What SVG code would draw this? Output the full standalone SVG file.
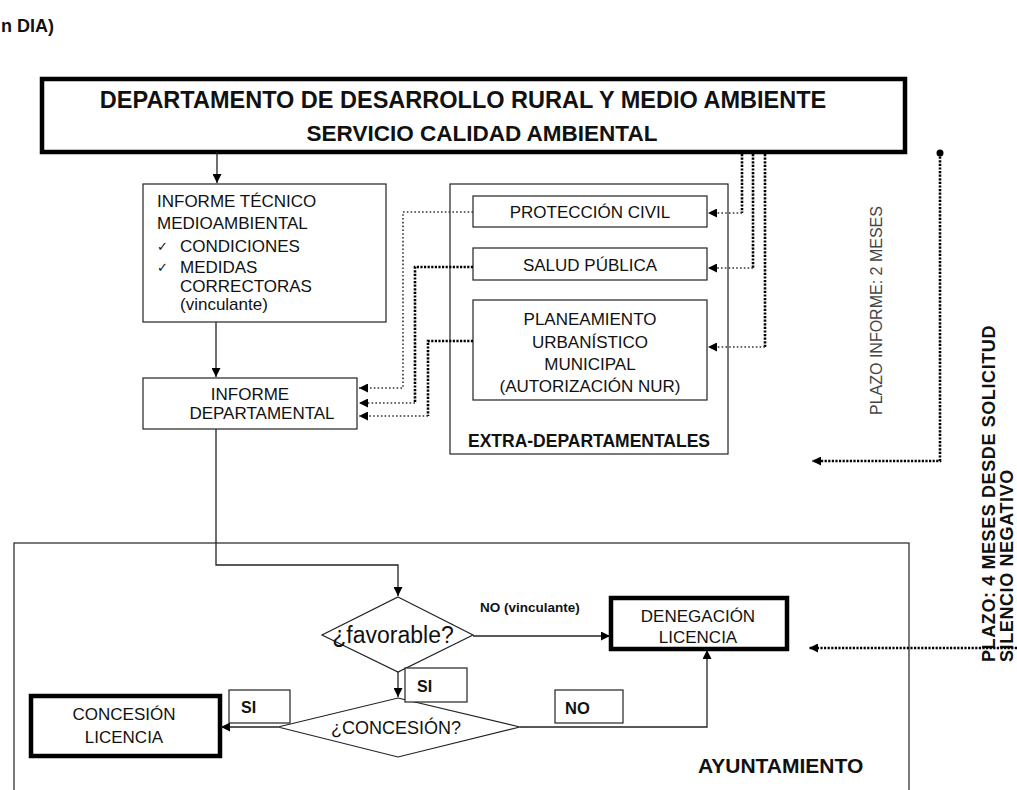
<svg xmlns="http://www.w3.org/2000/svg" width="1017" height="790" viewBox="0 0 1017 790">
<style>
text{font-family:"Liberation Sans",Arial,sans-serif;fill:#111}
.t{font-size:17px}
.b{font-weight:bold}
.box{fill:#fff;stroke:#222;stroke-width:1.2}
.thick{fill:#fff;stroke:#000;stroke-width:4.5}
.ln{fill:none;stroke:#222;stroke-width:1.3}
.dl{fill:none;stroke:#333;stroke-width:1.6;stroke-dasharray:1.6 2.2}
.dh{fill:none;stroke:#000;stroke-width:2.6;stroke-dasharray:2.2 1.4}
.chk{font-family:"DejaVu Sans",sans-serif;font-size:13px}
.rv{font-weight:bold;font-size:18px;letter-spacing:0.6px}
</style>
<defs>
<marker id="ah" viewBox="0 0 10 10" refX="10" refY="5" markerWidth="9" markerHeight="9" markerUnits="userSpaceOnUse" orient="auto"><path d="M0,0 L10,5 L0,10 z" fill="#000"/></marker>
</defs>
<rect width="1017" height="790" fill="#fff"/>

<text x="1" y="32" class="b" font-size="18">n DIA)</text>

<g id="ayuntamiento">
<rect x="14" y="543" width="895" height="260" class="box"/>
<text x="698" y="773" class="b" font-size="21">AYUNTAMIENTO</text>
</g>

<g id="departamento">
<rect x="42" y="79" width="863" height="73" class="thick"/>
<text x="463" y="108" class="b" font-size="23.5" text-anchor="middle">DEPARTAMENTO DE DESARROLLO RURAL Y MEDIO AMBIENTE</text>
<text x="482" y="141" class="b" font-size="22.5" text-anchor="middle">SERVICIO CALIDAD AMBIENTAL</text>
</g>

<g id="informe-tecnico">
<rect x="143" y="184" width="243" height="138" class="box"/>
<text x="157" y="207" class="t">INFORME TÉCNICO</text>
<text x="157" y="229" class="t">MEDIOAMBIENTAL</text>
<text x="157" y="251" class="chk">✓</text>
<text x="180" y="252" class="t">CONDICIONES</text>
<text x="157" y="272" class="chk">✓</text>
<text x="180" y="273" class="t">MEDIDAS</text>
<text x="180" y="292" class="t">CORRECTORAS</text>
<text x="180" y="310" class="t">(vinculante)</text>
</g>

<g id="informe-departamental">
<rect x="143" y="378" width="214" height="51" class="box"/>
<text x="250" y="400" class="t" text-anchor="middle">INFORME</text>
<text x="262" y="419" class="t" text-anchor="middle">DEPARTAMENTAL</text>
</g>

<g id="extra-departamentales">
<rect x="450" y="184" width="278" height="270" class="box"/>
<text x="589" y="447" class="b" font-size="17.5" text-anchor="middle">EXTRA-DEPARTAMENTALES</text>
</g>

<g id="proteccion-civil">
<rect x="473" y="196" width="234" height="31" class="box"/>
<text x="590" y="218" class="t" text-anchor="middle">PROTECCIÓN CIVIL</text>
</g>

<g id="salud-publica">
<rect x="473" y="248" width="234" height="32" class="box"/>
<text x="590" y="271" class="t" text-anchor="middle">SALUD PÚBLICA</text>
</g>

<g id="planeamiento">
<rect x="473" y="300" width="234" height="100" class="box"/>
<text x="590" y="325" class="t" text-anchor="middle">PLANEAMIENTO</text>
<text x="590" y="348" class="t" text-anchor="middle">URBANÍSTICO</text>
<text x="590" y="370" class="t" text-anchor="middle">MUNICIPAL</text>
<text x="590" y="392" class="t" text-anchor="middle">(AUTORIZACIÓN NUR)</text>
</g>

<g id="favorable">
<polygon points="398,597 473,635 398,672 322,635" class="box"/>
<text x="393" y="643" font-size="23" text-anchor="middle">¿favorable?</text>
</g>

<g id="concesion-q">
<polygon points="398,698 520,727 398,757 278,727" class="box"/>
<text x="396" y="734" font-size="18" text-anchor="middle">¿CONCESIÓN?</text>
</g>

<g id="denegacion">
<rect x="611" y="598" width="176" height="51" class="thick"/>
<text x="698" y="622" class="t" text-anchor="middle">DENEGACIÓN</text>
<text x="698" y="643" class="t" text-anchor="middle">LICENCIA</text>
</g>

<g id="concesion">
<rect x="31" y="696" width="189" height="60" class="thick"/>
<text x="124" y="720" class="t" text-anchor="middle">CONCESIÓN</text>
<text x="124" y="743" class="t" text-anchor="middle">LICENCIA</text>
</g>

<g id="labels">
<text x="480" y="612" class="b" font-size="13.5">NO (vinculante)</text>
<rect x="405" y="668" width="62" height="34" class="box"/>
<text x="417" y="692" class="b" font-size="16">SI</text>
<rect x="229" y="690" width="61" height="33" class="box"/>
<text x="241" y="713" class="b" font-size="16">SI</text>
<rect x="555" y="690" width="68" height="33" class="box"/>
<text x="565" y="714" class="b" font-size="16.5">NO</text>
<text transform="translate(882,415) rotate(-90)" font-size="16" style="fill:#444">PLAZO INFORME: 2 MESES</text>
<text transform="translate(995,662) rotate(-90)" class="rv">PLAZO:  4 MESES DESDE SOLICITUD</text>
<text transform="translate(1013,662) rotate(-90)" class="rv">SILENCIO NEGATIVO</text>
</g>

<g id="connectors">
<line x1="217" y1="152" x2="217" y2="183" class="ln" marker-end="url(#ah)"/>
<line x1="216" y1="322" x2="216" y2="377" class="ln" marker-end="url(#ah)"/>
<polyline points="216,429 216,565 398,565 398,596" class="ln" marker-end="url(#ah)"/>
<line x1="473" y1="636" x2="610" y2="636" class="ln" marker-end="url(#ah)"/>
<line x1="398" y1="672" x2="398" y2="697" class="ln" marker-end="url(#ah)"/>
<line x1="278" y1="727" x2="221" y2="727" class="ln" marker-end="url(#ah)"/>
<polyline points="520,727 707,727 707,650" class="ln" marker-end="url(#ah)"/>

<polyline points="473,212 403,212 403,388 359,388" class="dl" marker-end="url(#ah)"/>
<polyline points="473,267 415,267 415,403" class="dh"/>
<line x1="415" y1="403" x2="359" y2="403" class="dl" marker-end="url(#ah)"/>
<polyline points="473,341 428,341 428,416" class="dh"/>
<line x1="428" y1="416" x2="359" y2="416" class="dl" marker-end="url(#ah)"/>

<line x1="742" y1="154" x2="742" y2="213" class="dh"/>
<line x1="742" y1="213" x2="708" y2="213" class="dl" marker-end="url(#ah)"/>
<line x1="753" y1="154" x2="753" y2="268" class="dh"/>
<line x1="753" y1="268" x2="708" y2="268" class="dl" marker-end="url(#ah)"/>
<line x1="765" y1="154" x2="765" y2="347" class="dh"/>
<line x1="765" y1="347" x2="708" y2="347" class="dl" marker-end="url(#ah)"/>

<circle cx="940" cy="153" r="3.5" fill="#000"/>
<polyline points="940,153 940,461 812,461" class="dh" marker-end="url(#ah)"/>
<line x1="1017" y1="648" x2="809" y2="648" class="dh" marker-end="url(#ah)"/>
</g>
</svg>
